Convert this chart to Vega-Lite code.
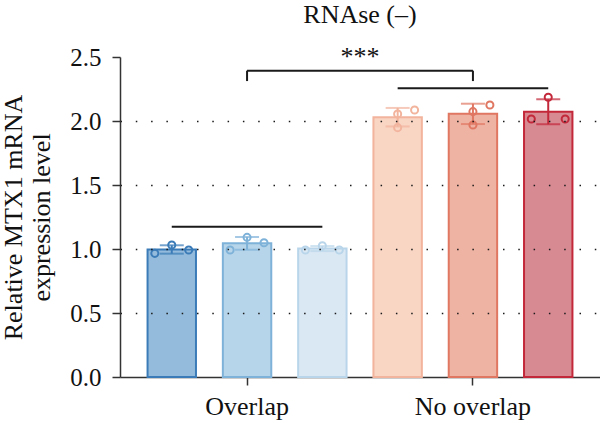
{
  "$schema": "https://vega.github.io/schema/vega-lite/v6.json",
  "width": 480,
  "height": 320,
  "autosize": {"type": "none"},
  "padding": {"left": 120, "top": 57, "right": 0, "bottom": 46},
  "config": {
    "font": "Liberation Serif",
    "view": {"stroke": null}
  },
  "title": {
    "text": "RNAse (–)",
    "fontSize": 26,
    "fontWeight": "normal",
    "color": "#111111",
    "anchor": "middle",
    "offset": 16
  },
  "datasets": {
    "replicates": [
      {"cond": "O1", "rep": 1, "value": 0.966},
      {"cond": "O1", "rep": 2, "value": 1.031},
      {"cond": "O1", "rep": 3, "value": 0.992},
      {"cond": "O2", "rep": 1, "value": 0.992},
      {"cond": "O2", "rep": 2, "value": 1.091},
      {"cond": "O2", "rep": 3, "value": 1.049},
      {"cond": "O3", "rep": 1, "value": 0.992},
      {"cond": "O3", "rep": 2, "value": 1.026},
      {"cond": "O3", "rep": 3, "value": 0.992},
      {"cond": "N1", "rep": 2, "value": 2.055},
      {"cond": "N1", "rep": 2, "value": 1.948},
      {"cond": "N1", "rep": 3, "value": 2.086},
      {"cond": "N2", "rep": 2, "value": 2.073},
      {"cond": "N2", "rep": 2, "value": 1.969},
      {"cond": "N2", "rep": 3, "value": 2.125},
      {"cond": "N3", "rep": 1, "value": 2.016},
      {"cond": "N3", "rep": 2, "value": 2.185},
      {"cond": "N3", "rep": 3, "value": 2.016}
    ],
    "brackets": [
      {"from": "O1", "to": "O3", "y": 1.174},
      {"from": "N1", "to": "N3", "y": 2.255},
      {"from": "O2", "to": "N2", "y": 2.393}
    ],
    "legs": [
      {"at": "O2", "y": 2.312, "y2": 2.393},
      {"at": "N2", "y": 2.312, "y2": 2.393}
    ],
    "stars": [
      {"at": "O3", "y": 2.44, "label": "***"}
    ]
  },
  "layer": [
    {
      "data": {"name": "replicates"},
      "mark": {"type": "bar", "strokeWidth": 2},
      "encoding": {
        "x": {
          "field": "cond",
          "type": "nominal",
          "title": null,
          "scale": {
            "domain": ["O1", "O2", "O3", "N1", "N2", "N3"],
            "paddingInner": 0.357,
            "paddingOuter": 0.366
          },
          "axis": {
            "values": ["O2", "N2"],
            "labelExpr": "datum.value == 'O2' ? 'Overlap' : 'No overlap'",
            "labelAngle": 0,
            "labelFontSize": 26,
            "labelColor": "#111111",
            "labelPadding": 8,
            "tickSize": 8,
            "tickWidth": 1.5,
            "tickColor": "#333333",
            "domainColor": "#333333",
            "domainWidth": 1.5,
            "grid": false
          }
        },
        "y": {
          "aggregate": "mean",
          "field": "value",
          "type": "quantitative",
          "title": ["Relative MTX1 mRNA", "expression level"],
          "scale": {"domain": [0, 2.5], "nice": false},
          "axis": {
            "values": [0, 0.5, 1, 1.5, 2, 2.5],
            "format": ".1f",
            "labelFontSize": 25,
            "labelColor": "#111111",
            "labelPadding": 11,
            "tickSize": 8,
            "tickWidth": 1.5,
            "tickColor": "#333333",
            "domainColor": "#333333",
            "domainWidth": 1.5,
            "grid": true,
            "gridColor": "#1a1a1a",
            "gridWidth": 1.5,
            "gridDash": [1.5, 13.8],
            "gridOpacity": {"condition": {"test": "datum.value === 0 || datum.value === 2.5", "value": 0}, "value": 1},
            "titleFontSize": 26,
            "titleFontWeight": "normal",
            "titleColor": "#111111",
            "titleLineHeight": 28,
            "titlePadding": 15,
            "zindex": 1
          }
        },
        "fill": {
          "field": "cond",
          "type": "nominal",
          "legend": null,
          "scale": {
            "domain": ["O1", "O2", "O3", "N1", "N2", "N3"],
            "range": ["#94bbdb", "#b7d5ea", "#dae8f4", "#f9d5c4", "#efb3a4", "#d88a93"]
          }
        },
        "stroke": {
          "field": "cond",
          "type": "nominal",
          "legend": null,
          "scale": {
            "domain": ["O1", "O2", "O3", "N1", "N2", "N3"],
            "range": ["#3b7cb8", "#7fb2d8", "#b9d5ea", "#f2b49d", "#e07762", "#c3283a"]
          }
        }
      }
    },
    {
      "data": {"name": "replicates"},
      "mark": {"type": "errorbar", "extent": "stdev", "ticks": true, "size": 24, "thickness": 2},
      "encoding": {
        "x": {"field": "cond", "type": "nominal", "title": null},
        "y": {"field": "value", "type": "quantitative", "title": ["Relative MTX1 mRNA", "expression level"]},
        "color": {
          "field": "cond",
          "type": "nominal",
          "legend": null,
          "scale": {
            "domain": ["O1", "O2", "O3", "N1", "N2", "N3"],
            "range": ["#3b7cb8", "#7fb2d8", "#b9d5ea", "#f2b49d", "#e07762", "#c3283a"]
          }
        }
      }
    },
    {
      "data": {"name": "replicates"},
      "transform": [{"filter": "datum.rep == 1"}],
      "mark": {"type": "point", "shape": "circle", "filled": false, "size": 50, "strokeWidth": 2, "opacity": 1},
      "encoding": {
        "x": {"field": "cond", "type": "nominal", "title": null, "bandPosition": 0.15},
        "y": {"field": "value", "type": "quantitative", "title": ["Relative MTX1 mRNA", "expression level"]},
        "color": {"field": "cond", "type": "nominal", "legend": null}
      }
    },
    {
      "data": {"name": "replicates"},
      "transform": [{"filter": "datum.rep == 2"}],
      "mark": {"type": "point", "shape": "circle", "filled": false, "size": 50, "strokeWidth": 2, "opacity": 1},
      "encoding": {
        "x": {"field": "cond", "type": "nominal", "title": null, "bandPosition": 0.5},
        "y": {"field": "value", "type": "quantitative", "title": ["Relative MTX1 mRNA", "expression level"]},
        "color": {"field": "cond", "type": "nominal", "legend": null}
      }
    },
    {
      "data": {"name": "replicates"},
      "transform": [{"filter": "datum.rep == 3"}],
      "mark": {"type": "point", "shape": "circle", "filled": false, "size": 50, "strokeWidth": 2, "opacity": 1},
      "encoding": {
        "x": {"field": "cond", "type": "nominal", "title": null, "bandPosition": 0.85},
        "y": {"field": "value", "type": "quantitative", "title": ["Relative MTX1 mRNA", "expression level"]},
        "color": {"field": "cond", "type": "nominal", "legend": null}
      }
    },
    {
      "data": {"name": "brackets"},
      "mark": {"type": "rule", "strokeWidth": 2, "color": "#1a1a1a"},
      "encoding": {
        "x": {"field": "from", "type": "nominal", "title": null, "bandPosition": 0.5},
        "x2": {"field": "to"},
        "y": {"field": "y", "type": "quantitative", "title": ["Relative MTX1 mRNA", "expression level"]}
      }
    },
    {
      "data": {"name": "legs"},
      "mark": {"type": "rule", "strokeWidth": 2, "color": "#1a1a1a"},
      "encoding": {
        "x": {"field": "at", "type": "nominal", "title": null, "bandPosition": 0.5},
        "y": {"field": "y", "type": "quantitative", "title": ["Relative MTX1 mRNA", "expression level"]},
        "y2": {"field": "y2"}
      }
    },
    {
      "data": {"name": "stars"},
      "mark": {"type": "text", "fontSize": 26, "color": "#111111", "align": "center", "baseline": "alphabetic"},
      "encoding": {
        "x": {"field": "at", "type": "nominal", "title": null, "bandPosition": 1.277},
        "y": {"field": "y", "type": "quantitative", "title": ["Relative MTX1 mRNA", "expression level"]},
        "text": {"field": "label"}
      }
    }
  ]
}
